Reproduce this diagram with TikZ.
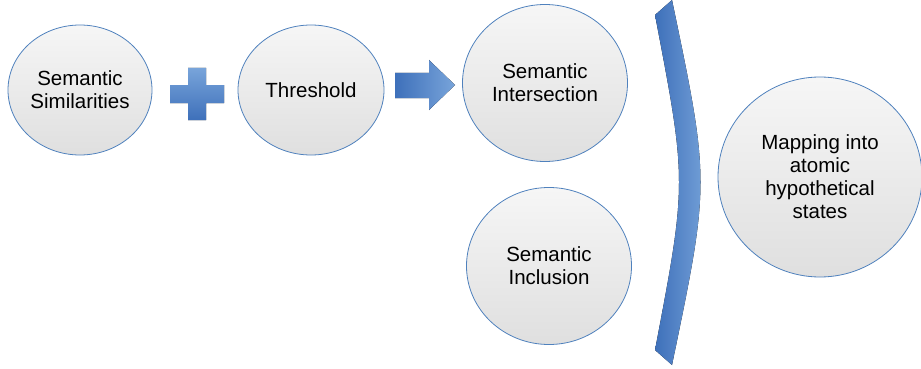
\documentclass[tikz,border=0pt]{standalone}
\usepackage{fontspec}
\setmainfont{Liberation Sans}
\usetikzlibrary{shapes.geometric}
\definecolor{ppblue}{RGB}{79,129,189}
\definecolor{ppdark}{RGB}{62,112,186}
\definecolor{pplight}{RGB}{120,164,218}
\begin{document}
\begin{tikzpicture}[x=1pt,y=-1pt,
  bubble/.style={ellipse,draw=ppblue,line width=0.8pt,top color=gray!7,bottom color=gray!25,
    align=center,font=\fontsize{20.5}{23}\selectfont,inner sep=0pt},
  bluebody/.style={left color=ppdark,right color=pplight,draw=none}]
\useasboundingbox (0,0) rectangle (921,369);

\node[bubble,minimum width=144,minimum height=130] (simil) at (80,90) {Semantic\\Similarities};
\node[bubble,minimum width=146,minimum height=130] (thresh) at (311,90) {Threshold};
\node[bubble,minimum width=165,minimum height=157] (inters) at (545,83) {Semantic\\Intersection};
\node[bubble,minimum width=165,minimum height=157] (inclu) at (549,266) {Semantic\\Inclusion};
\node[bubble,minimum width=204,minimum height=200] (mapst) at (820,177) {Mapping into\\atomic\\hypothetical\\states};

% plus sign
\fill[top color=pplight,bottom color=ppdark]
  (188,68) -- (206,68) -- (206,85) -- (224,85) -- (224,103) -- (206,103)
  -- (206,120) -- (188,120) -- (188,103) -- (170,103) -- (170,85) -- (188,85) -- cycle;

% block arrow
\fill[bluebody] (395,73) -- (429,73) -- (429,60) -- (455,85) -- (429,110)
  -- (429,98) -- (395,98) -- cycle;

% bracket
\fill[bluebody] (655,15) -- (672,0) .. controls (710,182) .. (672,365)
  -- (655,350) .. controls (687,182) .. (655,15) -- cycle;
\end{tikzpicture}
\end{document}
